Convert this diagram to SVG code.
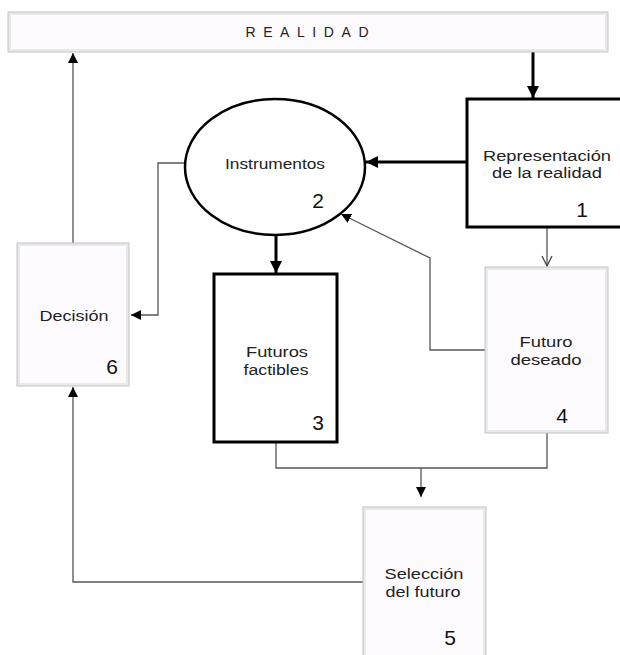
<svg xmlns="http://www.w3.org/2000/svg" width="620" height="655" viewBox="0 0 620 655">
<style>
.lbl{font-family:"Liberation Sans",Arial,sans-serif;font-size:15.5px;fill:#222;text-anchor:middle}
.num{font-family:"Liberation Sans",Arial,sans-serif;font-size:21px;fill:#111;text-anchor:middle}
.bev-o{fill:#e9e8ea;stroke:#c4c4c6;stroke-width:1}
.bev-i{fill:#fdfbfd;stroke:none}
.thick{fill:none;stroke:#000;stroke-width:3}
.thin{fill:none;stroke:#555;stroke-width:1.3}
.box{fill:#fff;stroke:#000;stroke-width:3}
</style>
<defs>
<marker id="ah" markerUnits="userSpaceOnUse" markerWidth="10" markerHeight="10" viewBox="0 0 10 10" refX="10" refY="5" orient="auto">
<path d="M0,0 L10,5 L0,10 z" fill="#000"/>
</marker>
<marker id="ahT" markerUnits="userSpaceOnUse" markerWidth="12" markerHeight="12" viewBox="0 0 12 12" refX="12" refY="6" orient="auto">
<path d="M0,0 L12,6 L0,12 z" fill="#000"/>
</marker>
<marker id="ahV" markerUnits="userSpaceOnUse" markerWidth="12" markerHeight="12" viewBox="0 0 12 12" refX="11" refY="6" orient="auto">
<path d="M1,1 L11,6 L1,11" fill="none" stroke="#444" stroke-width="1.3"/>
</marker>
</defs>

<g id="connectors">
<line class="thick" x1="533" y1="52" x2="533" y2="98" marker-end="url(#ahT)"/>
<line class="thick" x1="467" y1="162" x2="366" y2="162" marker-end="url(#ahT)"/>
<line class="thick" x1="276" y1="235" x2="276" y2="273" marker-end="url(#ahT)"/>
<line class="thin" x1="73" y1="243" x2="73" y2="53" marker-end="url(#ah)"/>
<polyline class="thin" points="185,163 158,163 158,315 131,315" marker-end="url(#ah)"/>
<line class="thin" x1="547" y1="227" x2="547" y2="266" marker-end="url(#ahV)"/>
<polyline class="thin" points="485,350 430,350 430,258 341,214" marker-end="url(#ah)"/>
<polyline class="thin" points="276,442 276,468 547,468 547,433"/>
<line class="thin" x1="421" y1="468" x2="421" y2="497" marker-end="url(#ah)"/>
<polyline class="thin" points="363,582 73,582 73,387" marker-end="url(#ah)"/>
</g>

<g id="realidad">
<rect class="bev-o" x="8" y="12" width="600" height="40"/>
<rect class="bev-i" x="11" y="15" width="594" height="34"/>
<text x="307" y="37" style="font-family:'Liberation Sans',Arial,sans-serif;font-size:14px;fill:#222" text-anchor="middle" textLength="123" lengthAdjust="spacing">REALIDAD</text>
</g>

<g id="n1">
<rect class="box" x="467" y="99" width="162" height="128"/>
<text class="lbl" x="547" y="161" textLength="128" lengthAdjust="spacingAndGlyphs">Representación</text>
<text class="lbl" x="547" y="178" textLength="110" lengthAdjust="spacingAndGlyphs">de la realidad</text>
<text class="num" x="582" y="217">1</text>
</g>

<g id="n2">
<ellipse cx="275" cy="167" rx="90" ry="68" fill="#fff" stroke="#000" stroke-width="2.5"/>
<text class="lbl" x="275" y="169" textLength="100" lengthAdjust="spacingAndGlyphs">Instrumentos</text>
<text class="num" x="318" y="208">2</text>
</g>

<g id="n3">
<rect class="box" x="214" y="274" width="123" height="168"/>
<text class="lbl" x="277" y="357" textLength="62" lengthAdjust="spacingAndGlyphs">Futuros</text>
<text class="lbl" x="276" y="375" textLength="65" lengthAdjust="spacingAndGlyphs">factibles</text>
<text class="num" x="318" y="430">3</text>
</g>

<g id="n4">
<rect class="bev-o" x="485" y="267" width="123" height="166"/>
<rect class="bev-i" x="488" y="270" width="117" height="160"/>
<text class="lbl" x="546" y="347" textLength="53" lengthAdjust="spacingAndGlyphs">Futuro</text>
<text class="lbl" x="546" y="365" textLength="71" lengthAdjust="spacingAndGlyphs">deseado</text>
<text class="num" x="562" y="423">4</text>
</g>

<g id="n5">
<rect class="bev-o" x="363" y="507" width="123" height="160"/>
<rect class="bev-i" x="366" y="510" width="117" height="154"/>
<text class="lbl" x="424" y="579" textLength="79" lengthAdjust="spacingAndGlyphs">Selección</text>
<text class="lbl" x="423" y="597" textLength="75" lengthAdjust="spacingAndGlyphs">del futuro</text>
<text class="num" x="450" y="645">5</text>
</g>

<g id="n6">
<rect class="bev-o" x="17" y="243" width="112" height="143"/>
<rect class="bev-i" x="20" y="246" width="106" height="137"/>
<text class="lbl" x="74" y="321" textLength="69" lengthAdjust="spacingAndGlyphs">Decisión</text>
<text class="num" x="112" y="374">6</text>
</g>
</svg>
